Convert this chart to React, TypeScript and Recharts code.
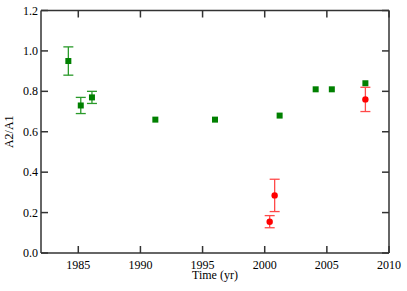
import React from 'react';
import { ScatterChart, Scatter, XAxis, YAxis, ErrorBar } from 'recharts';

const greenYears = [1984.2, 1985.2, 1986.1, 1991.2, 1996.0, 2001.2, 2004.1, 2005.4, 2008.1];
const greenValues = [0.95, 0.73, 0.77, 0.66, 0.66, 0.68, 0.81, 0.81, 0.84];
const greenErrors = [0.07, 0.04, 0.03, 0, 0, 0, 0, 0, 0];

const redYears = [2000.4, 2000.8, 2008.1];
const redValues = [0.155, 0.285, 0.76];
const redErrors = [0.03, 0.08, 0.06];

const xTicks = [1985, 1990, 1995, 2000, 2005, 2010];
const yTicks = [0, 0.2, 0.4, 0.6, 0.8, 1.0, 1.2];

const greenAll = greenYears.map((x, i) => ({ x, y: greenValues[i], err: greenErrors[i] }));
const greenWithErr = greenAll.filter((d) => d.err > 0);
const greenNoErr = greenAll.filter((d) => d.err === 0);
const redData = redYears.map((x, i) => ({ x, y: redValues[i], err: redErrors[i] }));

const FONT = '"Liberation Serif", "Times New Roman", serif';
const AXIS = '#333';
const TL = 7;

const BottomTick = (p: any) => (
  <g>
    <line x1={p.x} y1={p.y} x2={p.x} y2={p.y - TL} stroke={AXIS} strokeWidth={1.5} />
    <text x={p.x} y={p.y + 16} textAnchor="middle" fontFamily={FONT} fontSize={12} fill="#000">
      {p.payload.value}
    </text>
  </g>
);
const TopTick = (p: any) => (
  <line x1={p.x} y1={p.y} x2={p.x} y2={p.y + TL} stroke={AXIS} strokeWidth={1.5} />
);
const LeftTick = (p: any) => (
  <g>
    <line x1={p.x} y1={p.y} x2={p.x + TL} y2={p.y} stroke={AXIS} strokeWidth={1.5} />
    <text x={p.x - 3} y={p.y + 4} textAnchor="end" fontFamily={FONT} fontSize={12} fill="#000">
      {Number(p.payload.value).toFixed(1)}
    </text>
  </g>
);
const RightTick = (p: any) => (
  <line x1={p.x} y1={p.y} x2={p.x - TL} y2={p.y} stroke={AXIS} strokeWidth={1.5} />
);

const Square = (p: any) => (
  <rect x={p.cx - 3} y={p.cy - 3} width={6} height={6} fill="#008000" />
);
const Dot = (p: any) => <circle cx={p.cx} cy={p.cy} r={3.2} fill="#ff0000" />;
const Nothing = () => <g />;

export default function App() {
  return (
    <div style={{ position: 'absolute', left: 0, top: 0, background: '#fff' }}>
      <ScatterChart width={407} height={291} margin={{ top: 9.5, right: 17, bottom: 0, left: 0 }}>
        <XAxis
          xAxisId="b"
          type="number"
          dataKey="x"
          domain={[1982, 2010]}
          ticks={xTicks}
          orientation="bottom"
          height={38}
          tickSize={0}
          tickMargin={0}
          tickLine={false}
          axisLine={{ stroke: AXIS, strokeWidth: 1.5 }}
          tick={BottomTick}
          allowDataOverflow
          label={{
            content: (lp: any) => {
              const vb = lp.viewBox;
              return (
                <text x={vb.x + vb.width / 2} y={vb.y + 26} textAnchor="middle" fontFamily={FONT} fontSize={12} fill="#000">
                  Time (yr)
                </text>
              );
            },
          }}
        />
        <XAxis
          xAxisId="t"
          type="number"
          dataKey="x"
          domain={[1982, 2010]}
          ticks={xTicks}
          orientation="top"
          height={1}
          tickSize={0}
          tickMargin={0}
          tickLine={false}
          axisLine={{ stroke: AXIS, strokeWidth: 1.5 }}
          tick={TopTick}
          allowDataOverflow
        />
        <YAxis
          yAxisId="l"
          type="number"
          dataKey="y"
          domain={[0, 1.2]}
          ticks={yTicks}
          orientation="left"
          width={41}
          tickSize={0}
          tickMargin={0}
          tickLine={false}
          axisLine={{ stroke: AXIS, strokeWidth: 1.5 }}
          tick={LeftTick}
          allowDataOverflow
          label={{
            content: (lp: any) => {
              const vb = lp.viewBox;
              const cx = vb.x + 13;
              const cy = vb.y + vb.height / 2;
              return (
                <text x={cx} y={cy} transform={`rotate(-90, ${cx}, ${cy})`} textAnchor="middle" fontFamily={FONT} fontSize={12} fill="#000">
                  A2/A1
                </text>
              );
            },
          }}
        />
        <YAxis
          yAxisId="r"
          type="number"
          dataKey="y"
          domain={[0, 1.2]}
          ticks={yTicks}
          orientation="right"
          width={1}
          tickSize={0}
          tickMargin={0}
          tickLine={false}
          axisLine={{ stroke: AXIS, strokeWidth: 1.5 }}
          tick={RightTick}
          allowDataOverflow
        />
        <Scatter data={greenAll} xAxisId="t" yAxisId="r" shape={Nothing} isAnimationActive={false} />
        <Scatter data={greenWithErr} xAxisId="b" yAxisId="l" shape={Square} isAnimationActive={false}>
          <ErrorBar dataKey="err" direction="y" width={5} stroke="#2a9a2a" strokeWidth={1.3} />
        </Scatter>
        <Scatter data={greenNoErr} xAxisId="b" yAxisId="l" shape={Square} isAnimationActive={false} />
        <Scatter data={redData} xAxisId="b" yAxisId="l" shape={Dot} isAnimationActive={false}>
          <ErrorBar dataKey="err" direction="y" width={5} stroke="#ff4a4a" strokeWidth={1.3} />
        </Scatter>
      </ScatterChart>
    </div>
  );
}
